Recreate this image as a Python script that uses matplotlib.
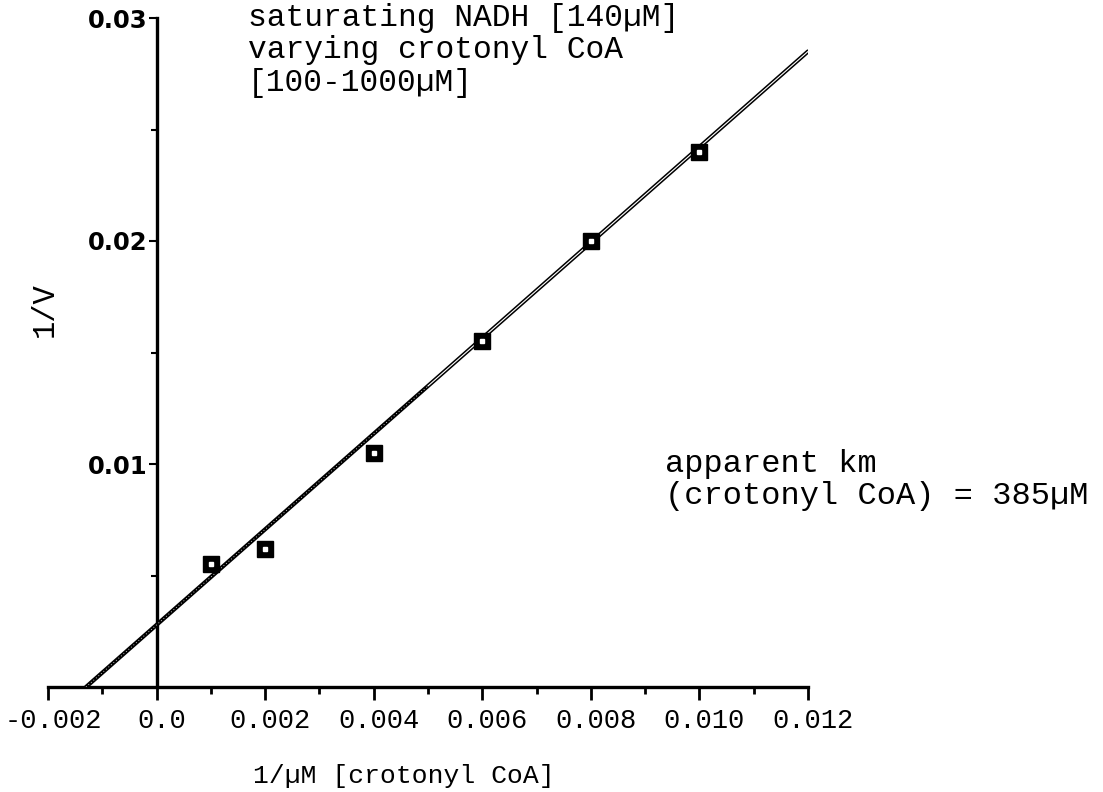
import numpy as np
import matplotlib
matplotlib.use('Agg')
import matplotlib.pyplot as plt
import matplotlib.transforms as mtransforms
from matplotlib.ticker import FixedLocator, FixedFormatter

# Lineweaver-Burk data: 1/[crotonyl CoA] vs 1/V
inv_s = [0.001, 0.002, 0.004, 0.006, 0.008, 0.010]
inv_v = [0.0055, 0.0062, 0.0105, 0.0155, 0.0200, 0.0240]

# fitted line, end points
line_x = [-0.0013, 0.012]
line_y = [0.0, 0.0285]

xticks = [-0.002, 0.0, 0.002, 0.004, 0.006, 0.008, 0.010, 0.012]
xlabels = ['-0.002', '0.0', '0.002', '0.004', '0.006', '0.008', '0.010', '0.012']
yticks = [0.01, 0.02, 0.03]
ylabels = ['0.01', '0.02', '0.03']

mono = 'Liberation Mono'

fig = plt.figure(figsize=(11.03, 7.92), dpi=100)
ax = fig.add_axes([48/1103, 105/792, 760/1103, 669/792])

ax.set_xlim(-0.002, 0.012)
ax.set_ylim(0, 0.03)

ax.spines['top'].set_visible(False)
ax.spines['right'].set_visible(False)
ax.spines['left'].set_position(('data', 0))
ax.spines['left'].set_linewidth(2.4)
ax.spines['bottom'].set_linewidth(2.4)

ax.xaxis.set_major_locator(FixedLocator(xticks))
ax.xaxis.set_major_formatter(FixedFormatter(xlabels))
ax.xaxis.set_minor_locator(FixedLocator(np.arange(-0.001, 0.012, 0.002)))
ax.yaxis.set_major_locator(FixedLocator(yticks))
ax.yaxis.set_major_formatter(FixedFormatter(ylabels))
ax.yaxis.set_minor_locator(FixedLocator([0.005, 0.015, 0.025]))

ax.tick_params(axis='x', which='major', direction='out', length=9, width=2, pad=6)
ax.tick_params(axis='x', which='minor', direction='out', length=5, width=2)
ax.tick_params(axis='y', which='major', direction='out', length=6, width=1.5, pad=0.5)
ax.tick_params(axis='y', which='minor', direction='out', length=4, width=1.5)

# x tick labels sit a little right of their ticks
shift = mtransforms.ScaledTranslation(5/100, 0, fig.dpi_scale_trans)
for lab in ax.get_xticklabels():
    lab.set_fontfamily(mono)
    lab.set_fontsize(19.5)
    lab.set_transform(lab.get_transform() + shift)
for lab in ax.get_yticklabels():
    lab.set_fontfamily('DejaVu Sans')
    lab.set_fontweight('bold')
    lab.set_fontsize(17.5)

# regression line, drawn as a dark stroke with a pale core
ax.plot(line_x, line_y, color='black', lw=3.0, solid_capstyle='round', zorder=3)
lx = np.array(line_x)
ly = np.array(line_y)
mid = 0.005
ymid = np.interp(mid, lx, ly)
ax.plot([lx[0], mid], [ly[0], ymid], color='white', lw=0.6, ls=(0, (1, 3)), zorder=4)
ax.plot([mid, lx[1]], [ymid, ly[1]], color='white', lw=0.8, zorder=4)

# data points
ax.plot(inv_s, inv_v, ls='none', marker='s', markersize=11, mfc='black',
        mec='black', zorder=5)
ax.plot(inv_s, inv_v, ls='none', marker='s', markersize=2.8, mfc='white',
        mec='white', zorder=6)

ax.set_xlabel('1/µM [crotonyl CoA]', fontfamily=mono, fontsize=19)
ax.xaxis.set_label_coords(0.468, -0.115)
fig.text(45/1103, 1 - 310/792, '1/V', fontfamily=mono, fontsize=22,
         rotation=90, ha='center', va='center')

fig.text(248/1103, 1 - 3/792, 'saturating NADH [140µM]\nvarying crotonyl CoA\n[100-1000µM]',
         fontfamily=mono, fontsize=22.5, ha='left', va='top', linespacing=1.1)
fig.text(665/1103, 1 - 449/792, 'apparent km\n(crotonyl CoA) = 385µM',
         fontfamily=mono, fontsize=23, ha='left', va='top', linespacing=1.1)

fig.savefig('out.png', dpi=100)
